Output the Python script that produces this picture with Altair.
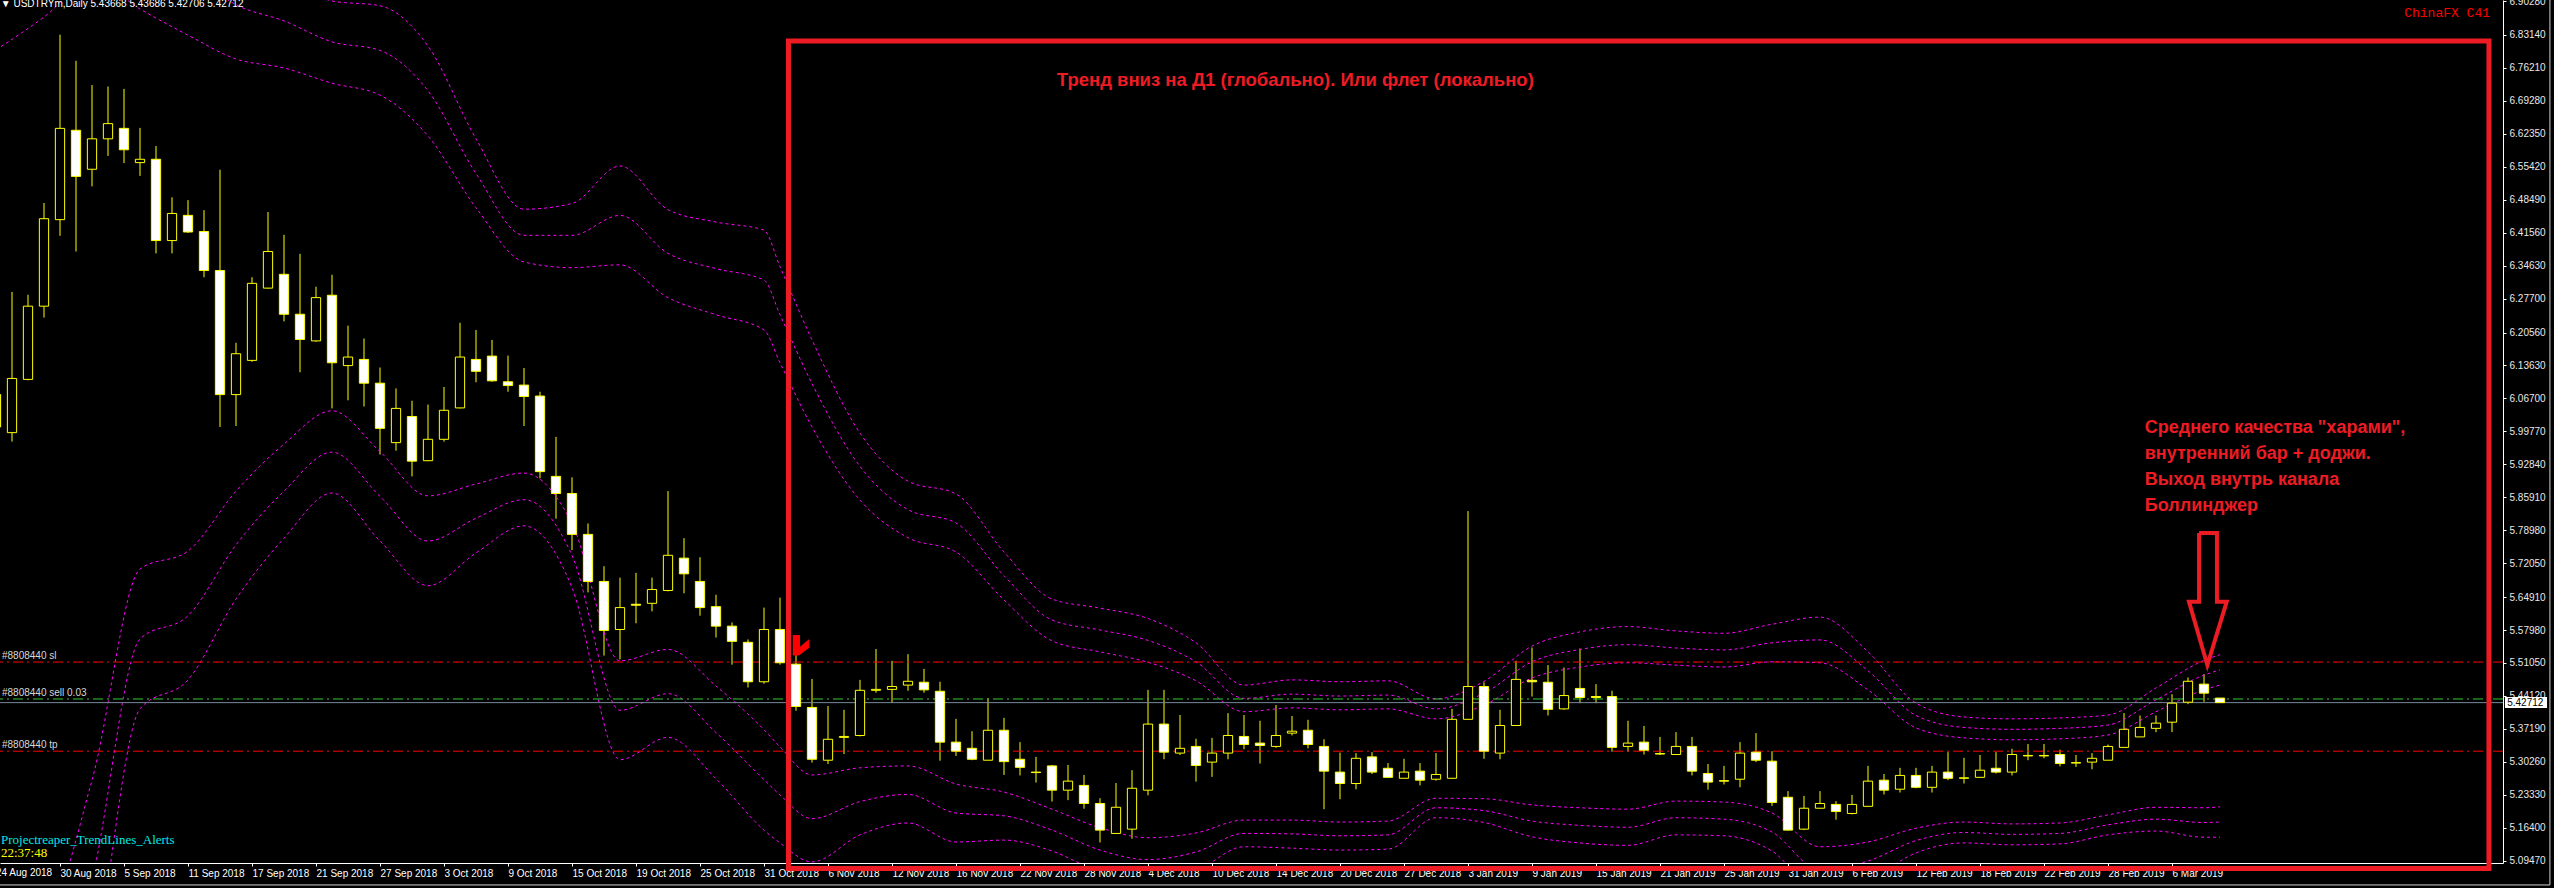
import altair as alt
import pandas as pd
import numpy as np

# ---------------- OHLC (daily bars, index 0 = 24 Aug 2018 ... 139 = 11 Mar 2019) -------------
opens = [6.075, 5.995, 6.107, 6.261, 6.443, 6.631, 6.549, 6.613, 6.635, 6.563,
         6.570, 6.399, 6.452, 6.418, 6.336, 6.075, 6.147, 6.299, 6.328, 6.244,
         6.188, 6.284, 6.136, 6.149, 6.099, 5.974, 6.029, 5.936, 5.981, 6.047,
         6.149, 6.156, 6.102, 6.095, 6.072, 5.903, 5.867, 5.781, 5.682, 5.581,
         5.634, 5.636, 5.663, 5.731, 5.682, 5.629, 5.588, 5.554, 5.471, 5.581,
         5.508, 5.417, 5.306, 5.354, 5.358, 5.453, 5.455, 5.464, 5.470, 5.451,
         5.344, 5.331, 5.306, 5.369, 5.308, 5.281, 5.294, 5.243, 5.253, 5.215,
         5.152, 5.161, 5.243, 5.382, 5.321, 5.335, 5.302, 5.321, 5.356, 5.342,
         5.335, 5.363, 5.369, 5.335, 5.281, 5.257, 5.313, 5.289, 5.268, 5.283,
         5.266, 5.268, 5.392, 5.461, 5.321, 5.379, 5.474, 5.470, 5.414, 5.457,
         5.440, 5.440, 5.335, 5.344, 5.320, 5.318, 5.335, 5.278, 5.263, 5.266,
         5.323, 5.304, 5.228, 5.161, 5.205, 5.213, 5.194, 5.209, 5.264, 5.245,
         5.274, 5.249, 5.281, 5.268, 5.270, 5.289, 5.281, 5.316, 5.315, 5.318,
         5.300, 5.302, 5.306, 5.333, 5.355, 5.373, 5.386, 5.428, 5.466, 5.43668]
highs = [6.100, 6.291, 6.285, 6.478, 6.832, 6.777, 6.726, 6.723, 6.718, 6.636,
         6.598, 6.490, 6.484, 6.463, 6.548, 6.184, 6.322, 6.459, 6.411, 6.371,
         6.302, 6.327, 6.220, 6.193, 6.132, 6.088, 6.062, 6.054, 6.091, 6.226,
         6.211, 6.190, 6.157, 6.131, 6.081, 5.986, 5.901, 5.804, 5.714, 5.690,
         5.700, 5.690, 5.872, 5.773, 5.733, 5.654, 5.596, 5.560, 5.627, 5.648,
         5.527, 5.477, 5.420, 5.412, 5.475, 5.540, 5.515, 5.529, 5.498, 5.471,
         5.393, 5.367, 5.436, 5.395, 5.344, 5.313, 5.296, 5.296, 5.275, 5.226,
         5.258, 5.285, 5.454, 5.454, 5.401, 5.351, 5.353, 5.405, 5.401, 5.389,
         5.422, 5.399, 5.391, 5.350, 5.322, 5.321, 5.323, 5.300, 5.309, 5.300,
         5.321, 5.414, 5.830, 5.470, 5.412, 5.515, 5.543, 5.506, 5.501, 5.541,
         5.466, 5.452, 5.389, 5.378, 5.355, 5.365, 5.355, 5.298, 5.294, 5.344,
         5.363, 5.325, 5.241, 5.231, 5.241, 5.220, 5.233, 5.294, 5.277, 5.290,
         5.290, 5.294, 5.323, 5.311, 5.317, 5.323, 5.330, 5.340, 5.340, 5.328,
         5.317, 5.321, 5.339, 5.405, 5.400, 5.400, 5.445, 5.480, 5.487, 5.43686]
lows = [5.980, 5.976, 6.105, 6.237, 6.409, 6.376, 6.513, 6.577, 6.562, 6.535,
        6.372, 6.372, 6.415, 6.322, 6.007, 6.009, 6.144, 6.298, 6.229, 6.122,
        6.186, 6.046, 6.063, 6.050, 5.949, 5.957, 5.903, 5.935, 5.976, 6.046,
        6.101, 6.102, 6.081, 6.009, 5.899, 5.814, 5.748, 5.659, 5.526, 5.518,
        5.594, 5.619, 5.661, 5.657, 5.610, 5.564, 5.507, 5.459, 5.467, 5.507,
        5.410, 5.301, 5.298, 5.319, 5.356, 5.448, 5.427, 5.452, 5.448, 5.305,
        5.315, 5.306, 5.306, 5.275, 5.274, 5.259, 5.219, 5.222, 5.204, 5.133,
        5.151, 5.141, 5.232, 5.308, 5.317, 5.261, 5.271, 5.308, 5.329, 5.299,
        5.332, 5.358, 5.331, 5.203, 5.224, 5.245, 5.277, 5.269, 5.268, 5.253,
        5.263, 5.267, 5.391, 5.309, 5.308, 5.378, 5.440, 5.400, 5.412, 5.426,
        5.426, 5.324, 5.324, 5.318, 5.317, 5.317, 5.274, 5.244, 5.255, 5.249,
        5.302, 5.210, 5.158, 5.159, 5.204, 5.181, 5.192, 5.209, 5.234, 5.238,
        5.247, 5.238, 5.264, 5.257, 5.269, 5.278, 5.274, 5.306, 5.310, 5.293,
        5.292, 5.287, 5.306, 5.333, 5.355, 5.365, 5.365, 5.424, 5.429, 5.42706]
closes = [6.007, 6.109, 6.261, 6.445, 6.635, 6.534, 6.613, 6.645, 6.590, 6.570,
          6.399, 6.456, 6.417, 6.336, 6.075, 6.161, 6.309, 6.376, 6.244, 6.191,
          6.279, 6.142, 6.154, 6.099, 6.004, 6.046, 5.935, 5.981, 6.042, 6.154,
          6.124, 6.104, 6.094, 6.071, 5.913, 5.867, 5.781, 5.682, 5.579, 5.627,
          5.632, 5.665, 5.737, 5.698, 5.627, 5.588, 5.556, 5.471, 5.581, 5.511,
          5.419, 5.308, 5.350, 5.356, 5.453, 5.455, 5.461, 5.472, 5.454, 5.344,
          5.325, 5.308, 5.369, 5.303, 5.291, 5.280, 5.243, 5.262, 5.215, 5.159,
          5.207, 5.247, 5.382, 5.323, 5.331, 5.295, 5.321, 5.358, 5.339, 5.337,
          5.358, 5.367, 5.339, 5.283, 5.257, 5.310, 5.281, 5.270, 5.281, 5.264,
          5.276, 5.392, 5.461, 5.325, 5.379, 5.476, 5.471, 5.413, 5.442, 5.438,
          5.438, 5.333, 5.342, 5.327, 5.319, 5.335, 5.283, 5.260, 5.262, 5.321,
          5.306, 5.217, 5.159, 5.205, 5.215, 5.198, 5.213, 5.262, 5.243, 5.274,
          5.249, 5.281, 5.268, 5.269, 5.285, 5.281, 5.318, 5.315, 5.316, 5.299,
          5.301, 5.310, 5.335, 5.371, 5.375, 5.384, 5.426, 5.472, 5.447, 5.42712]

# ---------------- Bollinger bands (20; 2, 2.5, 3 dev.) read at these bars ----------------
band_idx = [0, 3, 6, 9, 12, 15, 18, 21, 24, 27, 30, 33, 36, 39, 42, 45, 48, 49, 51, 54,
            57, 60, 63, 66, 69, 72, 75, 78, 81, 84, 87, 90, 93, 96, 99, 102, 105, 108,
            111, 114, 117, 120, 123, 126, 129, 132, 135, 138, 139]
band_u3 = [7.242, 7.340, 7.368, 7.181, 7.103, 7.008, 6.960, 6.903, 6.893, 6.808, 6.613,
           6.465, 6.477, 6.556, 6.464, 6.438, 6.421, 6.344, 6.190, 5.994, 5.893, 5.866,
           5.744, 5.645, 5.626, 5.604, 5.553, 5.464, 5.475, 5.471, 5.473, 5.435, 5.472,
           5.546, 5.576, 5.587, 5.578, 5.573, 5.592, 5.607, 5.534, 5.426, 5.397, 5.393,
           5.395, 5.401, 5.458, 5.516, 5.528]
band_u2 = [7.021, 7.105, 7.157, 7.033, 6.967, 6.895, 6.861, 6.817, 6.799, 6.714, 6.540,
           6.410, 6.410, 6.452, 6.372, 6.340, 6.316, 6.243, 6.098, 5.924, 5.833, 5.805,
           5.694, 5.601, 5.580, 5.558, 5.513, 5.436, 5.445, 5.441, 5.443, 5.414, 5.447,
           5.513, 5.539, 5.549, 5.542, 5.538, 5.553, 5.559, 5.494, 5.400, 5.375, 5.371,
           5.373, 5.380, 5.433, 5.485, 5.496]
band_u1 = [6.800, 6.869, 6.947, 6.886, 6.831, 6.781, 6.762, 6.730, 6.705, 6.619, 6.468,
           6.354, 6.342, 6.348, 6.279, 6.243, 6.211, 6.142, 6.007, 5.853, 5.774, 5.744,
           5.643, 5.557, 5.534, 5.512, 5.473, 5.408, 5.416, 5.412, 5.414, 5.393, 5.422,
           5.479, 5.502, 5.511, 5.506, 5.502, 5.513, 5.511, 5.454, 5.374, 5.353, 5.349,
           5.351, 5.359, 5.408, 5.454, 5.464]
band_l1 = [5.033, 4.985, 5.264, 5.708, 5.746, 5.872, 5.971, 6.041, 5.955, 5.862, 5.887,
           5.910, 5.804, 5.515, 5.539, 5.462, 5.370, 5.334, 5.275, 5.290, 5.294, 5.256,
           5.239, 5.203, 5.164, 5.143, 5.153, 5.180, 5.180, 5.176, 5.178, 5.226, 5.225,
           5.212, 5.206, 5.203, 5.220, 5.218, 5.195, 5.124, 5.134, 5.163, 5.176, 5.172,
           5.174, 5.191, 5.207, 5.206, 5.208]
band_l2 = [4.812, 4.749, 5.054, 5.561, 5.610, 5.759, 5.872, 5.954, 5.861, 5.767, 5.815,
           5.854, 5.737, 5.411, 5.446, 5.364, 5.265, 5.233, 5.183, 5.219, 5.234, 5.195,
           5.189, 5.159, 5.117, 5.097, 5.113, 5.152, 5.151, 5.147, 5.149, 5.206, 5.200,
           5.178, 5.169, 5.165, 5.185, 5.182, 5.155, 5.075, 5.094, 5.137, 5.154, 5.150,
           5.152, 5.170, 5.182, 5.175, 5.176]
band_l3 = [4.591, 4.514, 4.844, 5.414, 5.475, 5.645, 5.773, 5.868, 5.767, 5.673, 5.742,
           5.799, 5.669, 5.307, 5.354, 5.267, 5.159, 5.132, 5.092, 5.149, 5.174, 5.134,
           5.138, 5.115, 5.071, 5.051, 5.073, 5.124, 5.121, 5.117, 5.119, 5.185, 5.175,
           5.145, 5.132, 5.127, 5.149, 5.147, 5.115, 5.027, 5.054, 5.111, 5.132, 5.128,
           5.130, 5.149, 5.157, 5.144, 5.144]

# ---------------- axis labels ----------------
date_labels = ["24 Aug 2018", "30 Aug 2018", "5 Sep 2018", "11 Sep 2018", "17 Sep 2018",
               "21 Sep 2018", "27 Sep 2018", "3 Oct 2018", "9 Oct 2018", "15 Oct 2018",
               "19 Oct 2018", "25 Oct 2018", "31 Oct 2018", "6 Nov 2018", "12 Nov 2018",
               "16 Nov 2018", "22 Nov 2018", "28 Nov 2018", "4 Dec 2018", "10 Dec 2018",
               "14 Dec 2018", "20 Dec 2018", "27 Dec 2018", "3 Jan 2019", "9 Jan 2019",
               "15 Jan 2019", "21 Jan 2019", "25 Jan 2019", "31 Jan 2019", "6 Feb 2019",
               "12 Feb 2019", "18 Feb 2019", "22 Feb 2019", "28 Feb 2019", "6 Mar 2019"]
date_label_idx = [4 * k for k in range(len(date_labels))]
price_ticks = [6.90280, 6.83140, 6.76210, 6.69280, 6.62350, 6.55420, 6.48490, 6.41560,
               6.34630, 6.27700, 6.20560, 6.13630, 6.06700, 5.99770, 5.92840, 5.85910,
               5.78980, 5.72050, 5.64910, 5.57980, 5.51050, 5.44120, 5.37190, 5.30260,
               5.23330, 5.16400, 5.09470]

# ---------------- order lines ----------------
order_names = ["#8808440 sl", "#8808440 sell 0.03", "#8808440 tp"]
order_prices = [5.5125, 5.4348, 5.3250]
bid_price = 5.42712

# ---------------- annotations ----------------
box_i = [49.53, 155.81]
box_p = [5.0783, 6.8188]
headline = "Тренд вниз на Д1 (глобально). Или флет (локально)"
headline_pos = (66.3, 6.7241)
note_lines = ["Среднего качества \"харами\",", "внутренний бар + доджи.",
              "Выход внутрь канала", "Боллинджер"]
note_i = 134.3
note_p = [5.9936, 5.9389, 5.8842, 5.8308]
arrow_i = [137.69, 138.81, 138.81, 139.42, 138.21, 137.06, 137.69, 137.69]
arrow_p = [5.784, 5.784, 5.6395, 5.6395, 5.5063, 5.6395, 5.6395, 5.784]

RED = "#ED1C24"
XS = alt.Scale(domain=[0.25, 156.6875], nice=False, zero=False)
YS = alt.Scale(domain=[5.0898, 6.905], nice=False, zero=False)

label_expr = "[" + ",".join("'" + d + "'" for d in date_labels) + "][round(datum.value/4)]"
XAXIS = alt.Axis(values=date_label_idx, labelExpr=label_expr, orient="bottom",
                 domainColor="#ffffff", tickColor="#ffffff", tickSize=3, labelColor="#ffffff",
                 labelFont="Liberation Sans", labelFontSize=10, labelAlign="left",
                 labelBaseline="top", labelPadding=2, labelOverlap=False, labelFlush=False,
                 labelBound=False, grid=False, title=None)
YAXIS = alt.Axis(values=price_ticks, format=".5f", orient="right", domainColor="#ffffff",
                 tickColor="#ffffff", tickSize=3, labelColor="#e8e8e8",
                 labelFont="Liberation Sans", labelFontSize=10, labelPadding=3,
                 labelOverlap=False, labelFlush=False, labelBound=False, grid=False, title=None)


def X(f):
    return alt.X(f, type="quantitative", scale=XS, axis=XAXIS)


def Y(f):
    return alt.Y(f, type="quantitative", scale=YS, axis=YAXIS)


n = len(opens)
candles = pd.DataFrame({"i": list(range(n)), "open": opens, "high": highs,
                        "low": lows, "close": closes})
candles["kind"] = np.where(candles["close"] >= candles["open"], "bull", "bear")
candles["x0"] = candles["i"] - 0.29
candles["x1"] = candles["i"] + 0.29

bands = pd.concat([
    pd.DataFrame({"i": band_idx, "p": vals, "band": name})
    for name, vals in [("u3", band_u3), ("u2", band_u2), ("u1", band_u1),
                       ("l1", band_l1), ("l2", band_l2), ("l3", band_l3)]
])

band_layer = alt.Chart(bands).mark_line(
    color="#ff00ff", strokeWidth=1, strokeDash=[3, 3], clip=True, interpolate="monotone"
).encode(x=X("i"), y=Y("p"), detail="band:N")

wicks = alt.Chart(candles).mark_rule(color="#ffff00", strokeWidth=1, clip=True).encode(
    x=X("i"), y=Y("low"), y2="high")

bodies = alt.Chart(candles).mark_rect(stroke="#ffff00", strokeWidth=1, clip=True).encode(
    x=X("x0"), x2="x1", y=Y("open"), y2="close",
    fill=alt.Fill("kind:N", scale=alt.Scale(domain=["bull", "bear"],
                                            range=["#000000", "#ffffff"]), legend=None))

orders = pd.DataFrame({"p": order_prices, "name": order_names,
                       "kind": ["sl", "open", "tp"], "i": [0.375] * 3})
order_lines = alt.Chart(orders).mark_rule(strokeWidth=1, strokeDash=[10, 4, 2, 4]).encode(
    y=Y("p"),
    color=alt.Color("kind:N", scale=alt.Scale(domain=["sl", "open", "tp"],
                                              range=["#ff0000", "#32cd32", "#ff0000"]),
                    legend=None))
bid_line = alt.Chart(pd.DataFrame({"p": [bid_price]})).mark_rule(
    color="#778899", strokeWidth=1).encode(y=Y("p"))
order_text = alt.Chart(orders).mark_text(
    align="left", baseline="bottom", dy=-1, color="#d8d8d8",
    font="Liberation Sans", fontSize=10).encode(x=X("i"), y=Y("p"), text="name:N")

# first (partly hidden) date label, left of the visible range
first_label = alt.Chart(pd.DataFrame({"i": [0.0], "p": [5.0795], "t": [date_labels[0]]})).mark_text(
    align="left", baseline="top", color="#ffffff", font="Liberation Sans",
    fontSize=10).encode(x=X("i"), y=Y("p"), text="t:N")

# current price box on the price scale
pbox = pd.DataFrame({"i": [156.81], "i2": [159.44], "p": [5.4159], "p2": [5.4390],
                     "t": ["%.5f" % bid_price], "ti": [156.95], "tp": [bid_price]})
price_box = alt.Chart(pbox).mark_rect(fill="#ffffff").encode(
    x=X("i"), x2="i2", y=Y("p"), y2="p2")
price_txt = alt.Chart(pbox).mark_text(
    align="left", baseline="middle", color="#000000", font="Liberation Sans",
    fontSize=10).encode(x=X("ti"), y=Y("tp"), text="t:N")

# frame lines of the terminal window
frame = pd.DataFrame({"i": [0.25, 159.62], "i2": [159.62, 159.62],
                      "p": [5.0436, 5.0436], "p2": [5.0436, 6.905]})
frame_lines = alt.Chart(frame).mark_rule(color="#d0d0d0", strokeWidth=1).encode(
    x=X("i"), x2="i2", y=Y("p"), y2="p2")

# red highlight box
rbox = pd.DataFrame({"i": [box_i[0]], "i2": [box_i[1]], "p": [box_p[0]], "p2": [box_p[1]]})
red_box = alt.Chart(rbox).mark_rect(filled=False, stroke=RED, strokeWidth=5).encode(
    x=X("i"), x2="i2", y=Y("p"), y2="p2")

head = alt.Chart(pd.DataFrame({"i": [headline_pos[0]], "p": [headline_pos[1]],
                               "t": [headline]})).mark_text(
    align="left", baseline="alphabetic", color=RED, font="Liberation Sans",
    fontWeight="bold", fontSize=18.5).encode(x=X("i"), y=Y("p"), text="t:N")

notes = alt.Chart(pd.DataFrame({"i": [note_i] * 4, "p": note_p, "t": note_lines})).mark_text(
    align="left", baseline="alphabetic", color=RED, font="Liberation Sans",
    fontWeight="bold", fontSize=18).encode(x=X("i"), y=Y("p"), text="t:N")

arrow = alt.Chart(pd.DataFrame({"i": arrow_i, "p": arrow_p,
                                "k": list(range(len(arrow_i)))})).mark_line(
    color=RED, strokeWidth=4, strokeJoin="miter").encode(
    x=X("i"), y=Y("p"), order="k:Q")

sell_mark = alt.Chart(pd.DataFrame({"i": [50.25], "p": [5.548]})).mark_point(
    shape="M -0.7 -1 L 0.0 -1 L 0.0 0.15 L 0.9 -0.6 L 0.9 0.25 L -0.1 1 L -0.7 1 Z",
    filled=True, color="#ff0000", opacity=1, size=420).encode(x=X("i"), y=Y("p"))

# texts of the terminal
info = pd.DataFrame({
    "i": [0.3, 155.875, 0.3125, 0.3125],
    "p": [6.8913, 6.8777, 5.1382, 5.1109],
    "t": ["\u25bc USDTRYm,Daily  5.43668 5.43686 5.42706 5.42712", "ChinaFX C41",
          "Projectreaper_TrendLines_Alerts", "22:37:48"],
    "k": ["title", "brand", "ea", "clock"]})
t_title = alt.Chart(info[info.k == "title"]).mark_text(
    align="left", baseline="alphabetic", color="#ffffff", font="Liberation Sans",
    fontSize=10).encode(x=X("i"), y=Y("p"), text="t:N")
t_brand = alt.Chart(info[info.k == "brand"]).mark_text(
    align="right", baseline="middle", color="#ff0000", font="Liberation Mono",
    fontSize=13).encode(x=X("i"), y=Y("p"), text="t:N")
t_ea = alt.Chart(info[info.k == "ea"]).mark_text(
    align="left", baseline="middle", color="#00e8e8", font="Liberation Serif",
    fontSize=13).encode(x=X("i"), y=Y("p"), text="t:N")
t_clock = alt.Chart(info[info.k == "clock"]).mark_text(
    align="left", baseline="middle", color="#ffff00", font="Liberation Serif",
    fontSize=13).encode(x=X("i"), y=Y("p"), text="t:N")

chart = alt.layer(
    wicks, band_layer, order_lines, bid_line, bodies, order_text, first_label, frame_lines,
    price_box, price_txt, t_title, t_brand, t_ea, t_clock, sell_mark,
    red_box, head, notes, arrow
).properties(
    width=2503, height=863, background="#000000",
    padding={"left": 0, "top": 0, "right": 51, "bottom": 25},
    autosize=alt.AutoSizeParams(type="none")
).configure_view(strokeWidth=0)

chart.save("out.html", embed_options={"renderer": "svg", "actions": False})
